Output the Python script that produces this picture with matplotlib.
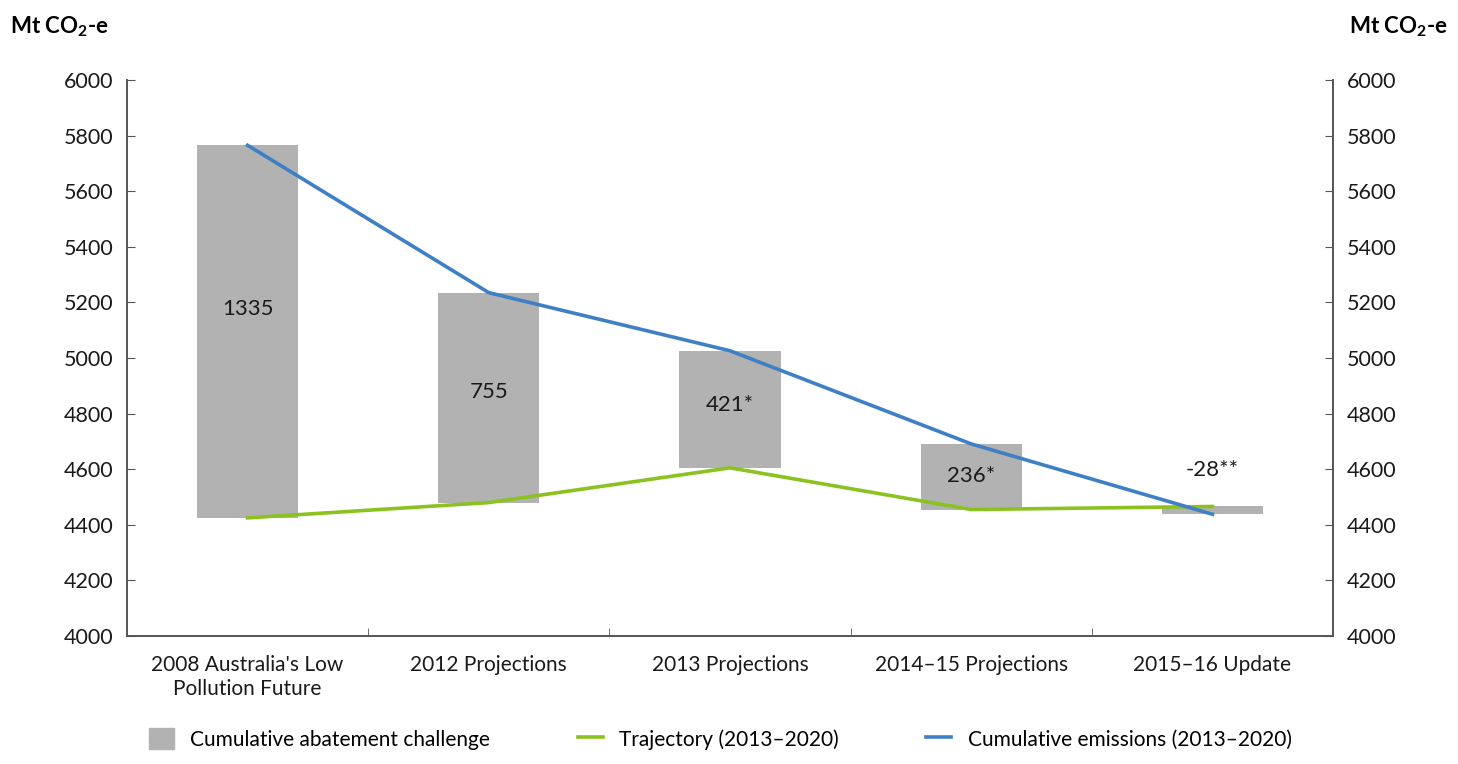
import matplotlib.pyplot as plt
import numpy as np
from matplotlib.patches import Patch
from matplotlib.lines import Line2D

plt.rcParams['font.family'] = ['Lato', 'DejaVu Sans']
plt.rcParams['mathtext.default'] = 'regular'

categories = ["2008 Australia's Low\nPollution Future", "2012 Projections", "2013 Projections",
              "2014\u201315 Projections", "2015\u201316 Update"]
trajectory = [4425, 4480, 4605, 4455, 4466]
emissions = [5765, 5235, 5026, 4691, 4438]
abatement_labels = ["1335", "755", "421*", "236*", "-28**"]
label_y = [5176, 4878, 4831, 4576, 4597]

bar_color = "#b2b2b2"
green = "#8cc21f"
blue = "#3f7fc4"
spine_color = "#555555"

fig = plt.figure(figsize=(14.58, 7.64), dpi=100)
ax = fig.add_axes([0.0871, 0.1675, 0.8272, 0.7278])

x = np.arange(len(categories))
bottoms = np.minimum(trajectory, emissions)
heights = np.abs(np.array(emissions) - np.array(trajectory))
ax.bar(x, heights, bottom=bottoms, width=0.42, color=bar_color, zorder=1)
ax.plot(x, trajectory, color=green, lw=2.6, zorder=2)
ax.plot(x, emissions, color=blue, lw=2.6, zorder=3)

for xi, lab, ly in zip(x, abatement_labels, label_y):
    ax.text(xi, ly, lab, ha='center', va='center', fontsize=16, color='#1a1a1a')

ax.set_xlim(-0.5, len(categories) - 0.5)
ax.set_ylim(4000, 6000)
ticks = np.arange(4000, 6001, 200)
ax.set_yticks(ticks)
ax.set_yticklabels([str(t) for t in ticks], fontsize=15.5, color='#1a1a1a')
ax.set_xticks(x)
ax.set_xticklabels(categories, fontsize=15, color='#1a1a1a')
ax.tick_params(axis='x', length=0, pad=14)
ax.set_xticks(np.arange(0.5, len(categories) - 1, 1), minor=True)
ax.tick_params(axis='x', which='minor', direction='in', length=6, color=spine_color)
ax.tick_params(axis='y', direction='in', length=6, color=spine_color, pad=10)

ax2 = ax.twinx()
ax2.set_ylim(4000, 6000)
ax2.set_yticks(ticks)
ax2.set_yticklabels([str(t) for t in ticks], fontsize=15.5, color='#1a1a1a')
ax2.tick_params(axis='y', direction='in', length=6, color=spine_color, pad=10)

for a in (ax, ax2):
    a.spines['top'].set_visible(False)
    for s in ('left', 'right', 'bottom'):
        a.spines[s].set_color(spine_color)
        a.spines[s].set_linewidth(1.2)

fig.text(0.007, 0.965, 'Mt CO$_2$-e', fontsize=16, fontweight='bold', ha='left', va='center')
fig.text(0.993, 0.965, 'Mt CO$_2$-e', fontsize=16, fontweight='bold', ha='right', va='center')

handles = [Patch(color=bar_color), Line2D([], [], color=green, lw=2.6), Line2D([], [], color=blue, lw=2.6)]
labels = ["Cumulative abatement challenge", "Trajectory (2013\u20132020)", "Cumulative emissions (2013\u20132020)"]
fig.legend(handles, labels, loc='center left', bbox_to_anchor=(0.089, 0.033), ncol=3, frameon=False,
           fontsize=15, handlelength=1.2, handleheight=1.2, columnspacing=4.2, handletextpad=0.8)

fig.savefig('out.png', dpi=100)
